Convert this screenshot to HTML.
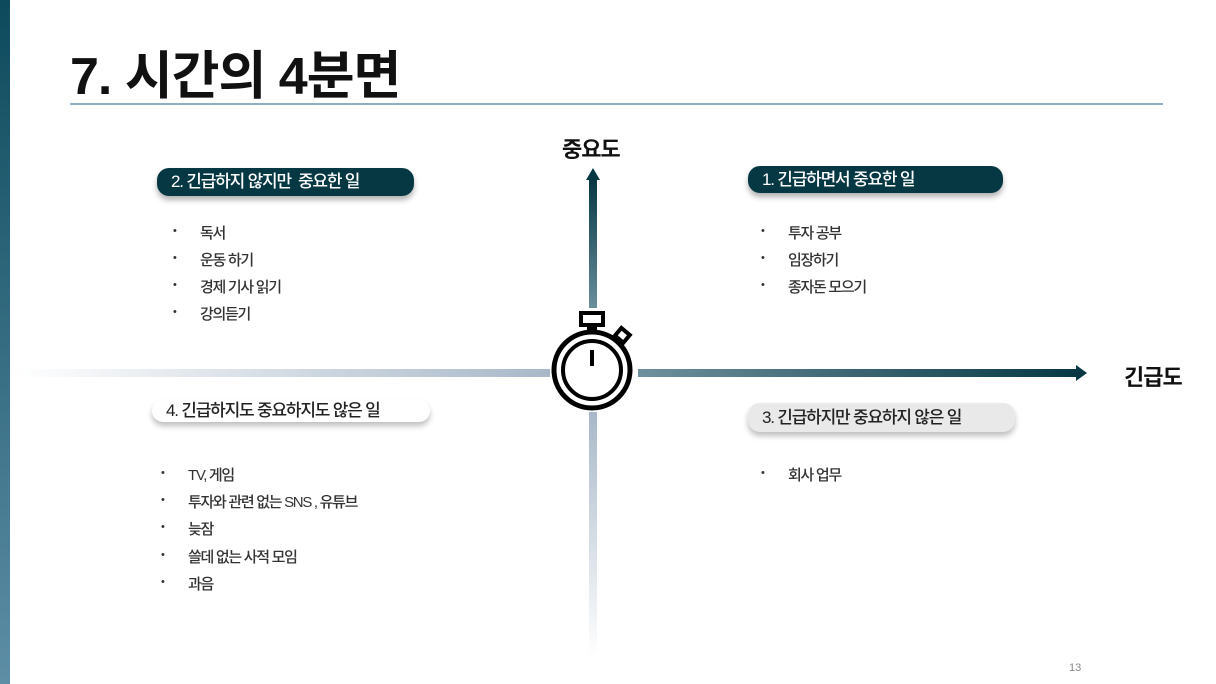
<!DOCTYPE html>
<html><head><meta charset="utf-8"><style>
body{margin:0;width:1216px;height:684px;background:#fff;position:relative;overflow:hidden;font-family:"Liberation Sans","Noto Sans CJK KR",sans-serif;}
.a{position:absolute;white-space:nowrap;}
.pill{position:absolute;border-radius:12px;font-size:17px;line-height:28px;padding-left:14px;box-sizing:border-box;letter-spacing:-1.2px;font-weight:500;}
.dark{background:#063844;color:#fff;box-shadow:0 4px 6px rgba(0,0,0,.3);}
.light{background:#fff;color:#222;box-shadow:0 4px 6px rgba(0,0,0,.25);}
.gray{background:#e9e9e9;color:#222;box-shadow:0 4px 6px rgba(0,0,0,.25);}
.li{position:absolute;font-size:15px;color:#333;letter-spacing:-1.3px;white-space:nowrap;font-weight:500;}
.li:before{content:"•";position:absolute;left:-27px;font-size:11px;top:3px;}
</style></head><body>
<div class="a" style="left:0;top:0;width:10px;height:684px;background:linear-gradient(#0d4a5c,#5d8ea6);"></div>
<div class="a" style="left:70px;top:34px;font-size:52px;font-weight:bold;color:#111;letter-spacing:-1px;">7. 시간의 4분면</div>
<div class="a" style="left:70px;top:103px;width:1093px;height:2px;background:#8fb0c0;"></div>
<div class="a" style="left:562px;top:132px;font-size:22px;font-weight:bold;color:#111;letter-spacing:-1px;">중요도</div>
<div class="a" style="left:1124px;top:360px;font-size:22px;font-weight:bold;color:#111;letter-spacing:-1px;">긴급도</div>
<div class="a" style="left:589px;top:180px;width:8px;height:128px;background:linear-gradient(#063844,#6a8e9c);"></div>
<div class="a" style="left:586px;top:168px;width:0;height:0;border-left:7px solid transparent;border-right:7px solid transparent;border-bottom:12px solid #063844;"></div>
<div class="a" style="left:589px;top:412px;width:8px;height:245px;background:linear-gradient(#a8b8c8,#fff);"></div>
<div class="a" style="left:15px;top:369px;width:535px;height:8px;background:linear-gradient(90deg,#fff,#a8b8c8);"></div>
<div class="a" style="left:638px;top:369px;width:440px;height:8px;background:linear-gradient(90deg,#6e909e,#063844);"></div>
<div class="a" style="left:1076px;top:365px;width:0;height:0;border-top:8px solid transparent;border-bottom:8px solid transparent;border-left:11px solid #063844;"></div>
<svg class="a" style="left:548px;top:308px" width="90" height="110" viewBox="0 0 90 110">
<rect x="33" y="5" width="22" height="12" fill="none" stroke="#000" stroke-width="4"/>
<rect x="39" y="16" width="10" height="8" fill="#000"/>
<rect x="69" y="22" width="11" height="10" fill="none" stroke="#000" stroke-width="4" transform="rotate(40 74 27)"/>
<circle cx="44" cy="62" r="38" fill="#fff" stroke="#000" stroke-width="5"/>
<circle cx="44" cy="62" r="29" fill="none" stroke="#000" stroke-width="4"/>
<line x1="44" y1="42" x2="44" y2="58" stroke="#000" stroke-width="4"/>
</svg>
<div class="pill dark" style="left:157px;top:168px;width:257px;height:28px;">2. 긴급하지 않지만 &nbsp;중요한 일</div>
<div class="pill dark" style="left:748px;top:166px;width:255px;height:27px;line-height:27px;">1. 긴급하면서 중요한 일</div>
<div class="pill light" style="left:152px;top:400px;width:278px;height:22px;line-height:22px;">4. 긴급하지도 중요하지도 않은 일</div>
<div class="pill gray" style="left:748px;top:403px;width:267px;height:29px;line-height:29px;">3. 긴급하지만 중요하지 않은 일</div>
<div class="li" style="left:200px;top:222px;">독서</div>
<div class="li" style="left:200px;top:249px;">운동 하기</div>
<div class="li" style="left:200px;top:276px;">경제 기사 읽기</div>
<div class="li" style="left:200px;top:303px;">강의듣기</div>
<div class="li" style="left:788px;top:222px;">투자 공부</div>
<div class="li" style="left:788px;top:249px;">임장하기</div>
<div class="li" style="left:788px;top:276px;">종자돈 모으기</div>
<div class="li" style="left:188px;top:464px;">TV, 게임</div>
<div class="li" style="left:188px;top:491px;">투자와 관련 없는 SNS , 유튜브</div>
<div class="li" style="left:188px;top:518px;">늦잠</div>
<div class="li" style="left:188px;top:546px;">쓸데 없는 사적 모임</div>
<div class="li" style="left:188px;top:573px;">과음</div>
<div class="li" style="left:788px;top:464px;">회사 업무</div>
<div class="a" style="left:1069px;top:662px;font-size:11px;color:#888;">13</div>
</body></html>
